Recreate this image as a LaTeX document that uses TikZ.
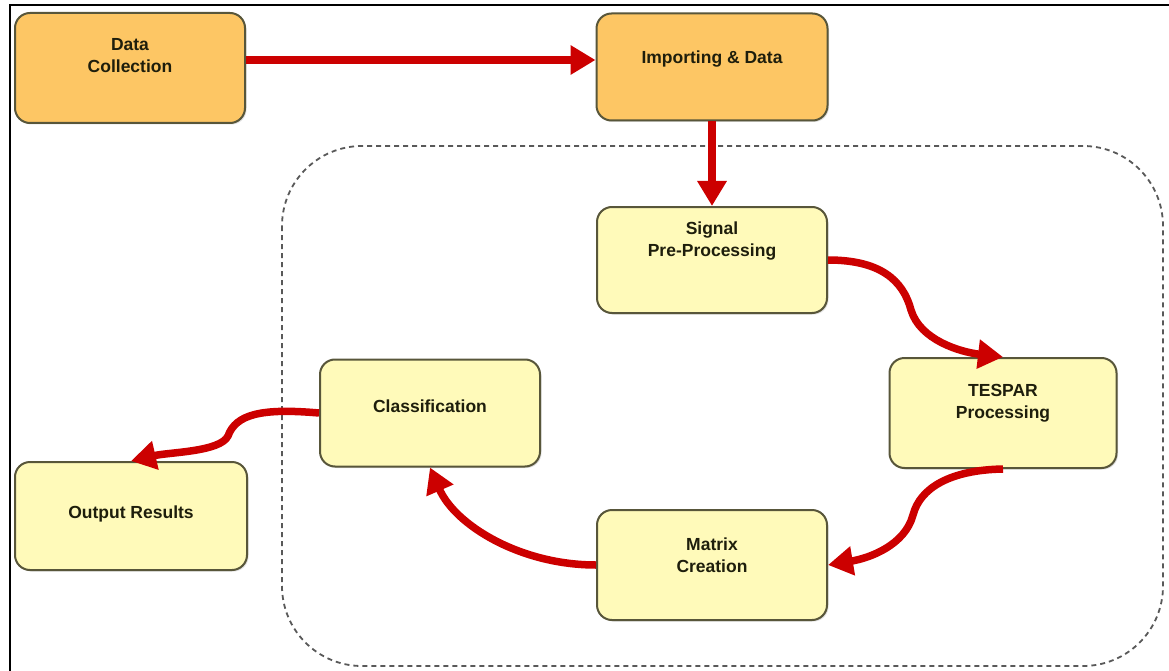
\documentclass[tikz,border=0pt]{standalone}
\usepackage{fontspec}
\setmainfont{Liberation Sans}
\usetikzlibrary{arrows.meta,shadows,calc}
\definecolor{redarr}{RGB}{204,0,0}
\definecolor{orangefill}{RGB}{253,198,100}
\definecolor{yellowfill}{RGB}{255,250,186}
\definecolor{boxline}{RGB}{88,86,58}
\definecolor{txtcol}{RGB}{30,30,12}
\tikzset{
  box/.style={draw=boxline, line width=2pt, rounded corners=15pt, inner sep=0pt,
    drop shadow={shadow xshift=1.5pt, shadow yshift=-1.5pt, opacity=0.25}},
  obox/.style={box, fill=orangefill},
  ybox/.style={box, fill=yellowfill},
  lbl/.style={align=center, text=txtcol, font=\bfseries\fontsize{17.5}{22}\selectfont},
  flow/.style={draw=redarr, line width=7.5pt, -{Triangle[length=25pt,width=28pt]}},
  region/.style={draw=black!65, line width=1.8pt, dash pattern=on 5pt off 4pt, rounded corners=80pt}
}
\begin{document}
\begin{tikzpicture}[x=1pt,y=-1pt]
\useasboundingbox (0,0) rectangle (1169,671);
\fill[white] (0,0) rectangle (1169,671);
% frame (top and left edges)
\draw[line width=2.5pt] (1169,5) -- (10,5) -- (10,671);
% dashed region
\draw[region] (282,146) rectangle (1163,666);
% boxes
\node[obox, minimum width=230pt, minimum height=110pt] (dc)  at (130,68) {};
\node[obox, minimum width=231pt, minimum height=107pt] (imp) at (712,67) {};
\node[ybox, minimum width=230pt, minimum height=106pt] (sig) at (712,260) {};
\node[ybox, minimum width=227pt, minimum height=110pt] (tes) at (1003,413) {};
\node[ybox, minimum width=230pt, minimum height=110pt] (mat) at (712,565) {};
\node[ybox, minimum width=220pt, minimum height=107pt] (cls) at (430,413) {};
\node[ybox, minimum width=232pt, minimum height=108pt] (out) at (131,516) {};
% labels
\node[lbl] (tdc)  at ($(dc.north)+(0,44)$) {Data\\Collection};
\node[lbl] (timp) at ($(imp.north)+(0,47)$) {Importing \& Data};
\node[lbl] (tsig) at ($(sig.north)+(0,35)$) {Signal\\Pre-Processing};
\node[lbl] (ttes) at ($(tes.north)+(0,46)$) {TESPAR\\Processing};
\node[lbl] (tmat) at ($(mat.north)+(0,46)$) {Matrix\\Creation};
\node[lbl] (tcls) at ($(cls.north)+(0,48)$) {Classification};
\node[lbl] (tout) at ($(out.north)+(0,53)$) {Output Results};
% connectors
\coordinate (row) at (0,60);
\draw[flow] (dc.east|-row) -- (imp.west|-row);
\draw[flow] (imp.south) -- (sig.north);
\draw[flow] (sig.east) .. controls (880,260) and (903,280) .. (911,310)
  .. controls (920,340) and (960,352) .. (tes.north);
\draw[flow] (tes.south) .. controls (950,470) and (920,488) .. (913,515)
  .. controls (905,545) and (870,558) .. (mat.east);
\draw[flow] (mat.west) .. controls (520,565) and (455,525) .. (cls.south);
\draw[flow] (cls.west) .. controls (262,408) and (236,414) .. (228,436)
  .. controls (220,452) and (170,452) .. (out.north);
\end{tikzpicture}
\end{document}
